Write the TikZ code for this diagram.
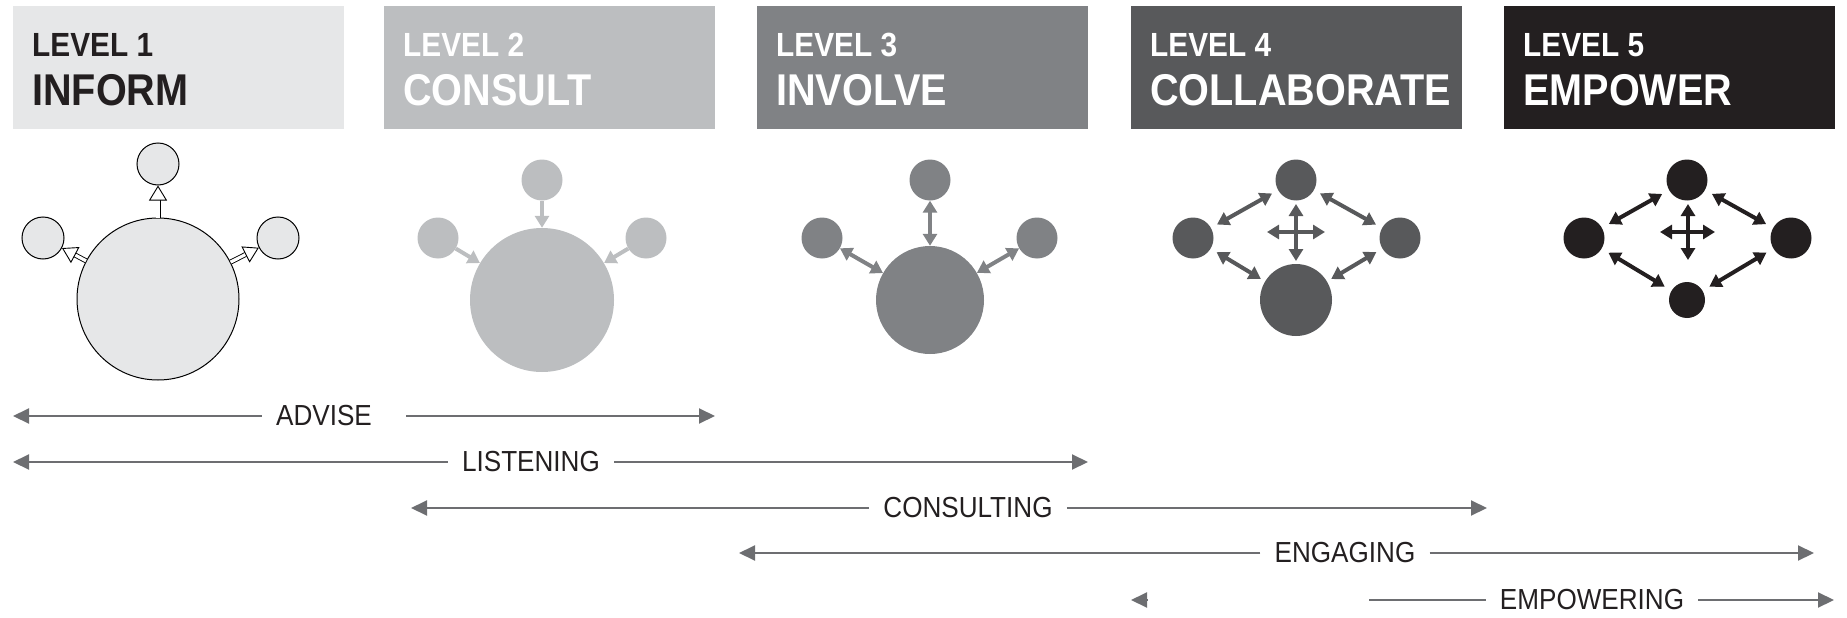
\documentclass[tikz,border=0pt]{standalone}
\usepackage{fontspec}
\setmainfont{Liberation Sans}
\newfontfamily\headfont[FakeStretch=0.89]{Liberation Sans}
\newfontfamily\bandfont[FakeStretch=0.9]{Liberation Sans}
\usetikzlibrary{arrows.meta}
\definecolor{lvone}{HTML}{E6E7E8}
\definecolor{lvtwo}{HTML}{BCBEC0}
\definecolor{lvthree}{HTML}{808285}
\definecolor{lvfour}{HTML}{58595B}
\definecolor{lvfive}{HTML}{231F20}
\definecolor{bandgray}{HTML}{6D6E71}
\tikzset{
  levelbox/.style={rectangle, minimum width=331, minimum height=123, inner sep=0, anchor=north west},
  levelnum/.style={anchor=base west, inner sep=0, font=\headfont\bfseries\fontsize{33.5}{33.5}\selectfont},
  levelname/.style={anchor=base west, inner sep=0, font=\headfont\bfseries\fontsize{44.5}{44.5}\selectfont},
  dot/.style={circle, inner sep=0, minimum size=#1},
  hollow/.style={draw=black, line width=0.9, double=white, double distance=3.2,
    -{Triangle[open, length=15pt, width=18pt, fill=white]}},
  push/.style={line width=4, -{Triangle[length=12pt, width=14pt]}},
  both/.style={line width=4, {Triangle[length=12pt, width=14pt]}-{Triangle[length=12pt, width=14pt]}},
  band/.style={draw=bandgray, line width=2, -{Triangle[length=16pt, width=15pt]}},
  plain/.style={draw=bandgray, line width=1.6},
  bandtext/.style={inner xsep=14, inner ysep=0, text=lvfive, font=\bandfont\fontsize{29}{29}\selectfont}
}
\begin{document}
\begin{tikzpicture}[x=1pt, y=-1pt]
  \useasboundingbox (0,0) rectangle (1847,618);
  % headers
  \node[levelbox, fill=lvone] (box1) at (13,6) {};
  \node[levelbox, fill=lvtwo] (box2) at (384,6) {};
  \node[levelbox, fill=lvthree] (box3) at (757,6) {};
  \node[levelbox, fill=lvfour] (box4) at (1131,6) {};
  \node[levelbox, fill=lvfive] (box5) at (1504,6) {};
  \node[levelnum, text=lvfive] (num1) at (32,57) {LEVEL 1};
  \node[levelname, text=lvfive] (name1) at (32,105) {INFORM};
  \node[levelnum, text=white] (num2) at (403,57) {LEVEL 2};
  \node[levelname, text=white] (name2) at (403,105) {CONSULT};
  \node[levelnum, text=white] (num3) at (776,57) {LEVEL 3};
  \node[levelname, text=white] (name3) at (776,105) {INVOLVE};
  \node[levelnum, text=white] (num4) at (1150,57) {LEVEL 4};
  \node[levelname, text=white] (name4) at (1150,105) {COLLABORATE};
  \node[levelnum, text=white] (num5) at (1523,57) {LEVEL 5};
  \node[levelname, text=white] (name5) at (1523,105) {EMPOWER};

  % level 1
  \node[dot=162, draw, line width=1, fill=lvone] (big1) at (158,299) {};
  \node[dot=42, draw, line width=1, fill=lvone] (top1) at (158,164) {};
  \node[dot=42, draw, line width=1, fill=lvone] (left1) at (43,238) {};
  \node[dot=42, draw, line width=1, fill=lvone] (right1) at (278,238) {};
  \draw[hollow] (big1) -- (top1);
  \draw[hollow] (big1) -- (left1);
  \draw[hollow] (big1) -- (right1);

  % level 2
  \node[dot=144, fill=lvtwo] (big2) at (542,300) {};
  \node[dot=41, fill=lvtwo] (top2) at (542,180) {};
  \node[dot=41, fill=lvtwo] (left2) at (438,238) {};
  \node[dot=41, fill=lvtwo] (right2) at (646,238) {};
  \draw[push, lvtwo] (top2) -- (big2);
  \draw[push, lvtwo] (left2) -- (big2);
  \draw[push, lvtwo] (right2) -- (big2);

  % level 3
  \node[dot=108, fill=lvthree] (big3) at (930,300) {};
  \node[dot=41, fill=lvthree] (top3) at (930,180) {};
  \node[dot=41, fill=lvthree] (left3) at (822,238) {};
  \node[dot=41, fill=lvthree] (right3) at (1037,238) {};
  \draw[both, lvthree] (top3) -- (big3);
  \draw[both, lvthree] (left3) -- (big3);
  \draw[both, lvthree] (right3) -- (big3);

  % level 4
  \node[dot=41, fill=lvfour, outer sep=7] (top4) at (1296,180) {};
  \node[dot=41, fill=lvfour, outer sep=7] (left4) at (1193,238) {};
  \node[dot=41, fill=lvfour, outer sep=7] (right4) at (1400,238) {};
  \node[dot=72, fill=lvfour, outer sep=5] (big4) at (1296,300) {};
  \draw[both, lvfour] (left4) -- (top4);
  \draw[both, lvfour] (top4) -- (right4);
  \draw[both, lvfour] (left4) -- (big4);
  \draw[both, lvfour] (right4) -- (big4);
  \coordinate (w4) at (1267,232);
  \coordinate (e4) at (1325,232);
  \coordinate (n4) at (1296,204);
  \coordinate (s4) at (1296,261);
  \draw[both, line width=3.5, lvfour] (w4) -- (e4);
  \draw[both, line width=3.5, lvfour] (n4) -- (s4);

  % level 5
  \node[dot=41, fill=lvfive, outer sep=8] (top5) at (1687,180) {};
  \node[dot=41, fill=lvfive, outer sep=8] (left5) at (1584,238) {};
  \node[dot=41, fill=lvfive, outer sep=8] (right5) at (1791,238) {};
  \node[dot=36, fill=lvfive, outer sep=8] (bot5) at (1687,300) {};
  \draw[both, lvfive] (left5) -- (top5);
  \draw[both, lvfive] (top5) -- (right5);
  \draw[both, lvfive] (left5) -- (bot5);
  \draw[both, lvfive] (right5) -- (bot5);
  \coordinate (w5) at (1660,232);
  \coordinate (e5) at (1715,232);
  \coordinate (n5) at (1688,204);
  \coordinate (s5) at (1688,260);
  \draw[both, line width=3.5, lvfive] (w5) -- (e5);
  \draw[both, line width=3.5, lvfive] (n5) -- (s5);

  % bands
  \node[bandtext] (advise) at (324,416) {ADVISE};
  \coordinate (adviseL) at (13,416);
  \coordinate (adviseM) at (406,416);
  \coordinate (adviseR) at (715,416);
  \draw[band] (advise.west) -- (adviseL);
  \draw[band] (adviseM) -- (adviseR);

  \node[bandtext] (listen) at (531,462) {LISTENING};
  \coordinate (listenL) at (13,462);
  \coordinate (listenR) at (1088,462);
  \draw[band] (listen.west) -- (listenL);
  \draw[band] (listen.east) -- (listenR);

  \node[bandtext] (consult) at (968,508) {CONSULTING};
  \coordinate (consultL) at (411,508);
  \coordinate (consultR) at (1487,508);
  \draw[band] (consult.west) -- (consultL);
  \draw[band] (consult.east) -- (consultR);

  \node[bandtext] (engage) at (1345,553) {ENGAGING};
  \coordinate (engageL) at (739,553);
  \coordinate (engageR) at (1814,553);
  \draw[band] (engage.west) -- (engageL);
  \draw[band] (engage.east) -- (engageR);

  \node[bandtext] (empower) at (1592,600) {EMPOWERING};
  \coordinate (empowerA) at (1147,600);
  \coordinate (empowerL) at (1131,600);
  \coordinate (empowerM) at (1369,600);
  \coordinate (empowerR) at (1834,600);
  \draw[band] (empowerA) -- (empowerL);
  \draw[plain] (empowerM) -- (empower.west);
  \draw[band] (empower.east) -- (empowerR);
\end{tikzpicture}
\end{document}
